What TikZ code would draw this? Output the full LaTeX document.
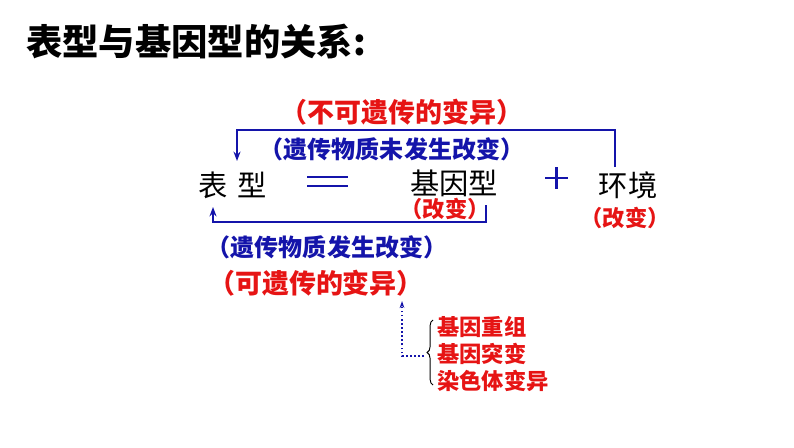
\documentclass[tikz,border=0pt]{standalone}
\usepackage{fontspec}
\setmainfont{Noto Sans CJK SC}
\usetikzlibrary{decorations.pathreplacing,arrows.meta}
\definecolor{myred}{RGB}{230,20,20}
\definecolor{myblue}{RGB}{20,20,170}
\tikzset{
  bigtxt/.style={font=\fontsize{25pt}{27pt}\selectfont},
  redtxt/.style={text=myred,font=\fontsize{23pt}{25pt}\selectfont\bfseries},
  smallred/.style={text=myred,font=\fontsize{19pt}{21pt}\selectfont\bfseries},
  bluetxt/.style={text=myblue,font=\fontsize{20.5pt}{22pt}\selectfont\bfseries},
  link/.style={myblue,line width=1.5pt,-{Stealth[length=8pt,width=6pt]}}
}
\begin{document}
\begin{tikzpicture}[x=0.03cm,y=-0.03cm]
    \useasboundingbox (0,0) rectangle (794,447);
    % Title
    \node[anchor=west,font=\fontsize{31pt}{33pt}\selectfont\bfseries] (title) at (22,42) {表型与基因型的关系:};

    % Main row
    \node[bigtxt] (pheno) at (233,185) {表\,\,型};
    \node[bigtxt] (geno) at (454,183) {基因型};
    \node[bigtxt] (env) at (628,185) {环境};
    \draw[myblue,line width=2pt] (307,177) -- (348,177);
    \draw[myblue,line width=2pt] (307,186) -- (348,186);
    \draw[myblue,line width=2pt] (545,178) -- (568,178) (556.5,167) -- (556.5,189);
    \node[smallred] (genochg) at (445,209) {（改变）};
    \node[smallred] (envchg) at (625,218) {（改变）};

    % Upper loop
    \node[redtxt] (nonherit) at (402,112) {（不可遗传的变异）};
    \node[bluetxt] (nochg) at (392,149) {（遗传物质未发生改变）};
    \coordinate (envtop) at (615,167);
    \coordinate (phtop) at (237,161);
    \draw[link] (envtop) -- (615,130) -- (237,130) -- (phtop);

    % Lower loop
    \coordinate (genobot) at (486,205);
    \coordinate (phbot) at (213,207);
    \draw[link] (genobot) -- (486,222) -- (213,222) -- (phbot);
    \node[bluetxt] (chg) at (327,247) {（遗传物质发生改变）};
    \node[redtxt] (herit) at (316,283) {（可遗传的变异）};

    % Sources
    \node[smallred,anchor=west,inner sep=0pt] (recomb) at (437,327) {基因重组};
    \node[smallred,anchor=west,inner sep=0pt] (mut) at (437,354) {基因突变};
    \node[smallred,anchor=west,inner sep=0pt] (chrom) at (437,381) {染色体变异};
    \draw[decorate,decoration={brace,amplitude=5pt,mirror},line width=0.8pt] (433,320) -- (433,385);
    \coordinate (bracetip) at (424,356);
    \draw[myblue,line width=1.5pt,dotted,-{Stealth[length=6pt,width=4pt]}] (bracetip) -- (402,356) -- (402,301);
\end{tikzpicture}
\end{document}
